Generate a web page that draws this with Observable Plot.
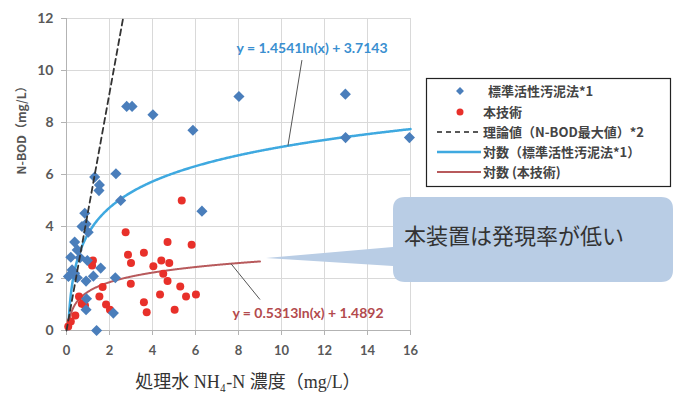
<!DOCTYPE html>
<html><head><meta charset="utf-8">
<script src="https://cdn.jsdelivr.net/npm/d3@7"></script>
<script src="https://cdn.jsdelivr.net/npm/@observablehq/plot@0.6"></script>
<style>
html,body{margin:0;padding:0;background:#fff;}
#chart{position:relative;width:674px;height:394px;}
</style>
</head><body><div id="chart"></div>
<script>
// Data
const blueX = [1.31,1.53,1.51,2.3,2.8,3.05,4.02,5.88,8.02,12.97,12.98,15.95,2.52,6.3,0.85,0.91,0.72,1.01,0.38,0.5,0.2,0.63,0.97,0.26,0.38,1.59,0.09,0.5,1.25,2.27,0.91,0.93,0.91,2.18,1.4];
const blueY = [5.9,5.6,5.38,6.03,8.62,8.62,8.3,7.7,9.0,9.09,7.42,7.42,5.0,4.59,4.51,4.1,4.0,3.78,3.4,3.1,2.82,2.8,2.69,2.33,2.2,2.4,2.08,2.03,2.09,2.03,1.9,1.22,0.8,0.67,0.0];
const redX = [5.36,2.75,4.7,5.82,3.6,2.86,3.0,4.41,4.78,4.04,1.23,1.19,4.5,4.7,2.99,1.68,5.29,4.35,5.56,6.02,1.53,0.58,3.6,3.73,5.03,1.84,2.02,0.71,0.86,0.41,0.2,0.08];
const redY = [5.0,3.78,3.4,3.3,2.99,2.91,2.6,2.69,2.6,2.47,2.69,2.5,2.18,1.9,1.8,1.67,1.69,1.38,1.31,1.38,1.31,1.31,1.09,0.7,0.8,1.0,0.8,1.03,0.96,0.58,0.35,0.15];
const theoryX = [0, 2.63];
const theoryY = [0, 12];
const blueFit = {a: 1.4541, b: 3.7143, from: 0.08, to: 16};
const redFit = {a: 0.5313, b: 1.4892, from: 0.07, to: 9};
const xTicks = [0,2,4,6,8,10,12,14,16];
const yTicks = [0,2,4,6,8,10,12];
const legendLabels = ["標準活性汚泥法*1","本技術","理論値（N-BOD最大値）*2","対数（標準活性汚泥法*1）","対数 (本技術)"];
const blueLabel = "y = 1.4541ln(x) + 3.7143";
const redLabel = "y = 0.5313ln(x) + 1.4892";
const calloutText = "本装置は発現率が低い";
const xLabel = "処理水 NH\u2084-N 濃度（mg/L）";
const yLabel = "N-BOD（mg/L）";

const C = {blue:"#4a7ebb", red:"#e8302a", blueLine:"#3fa9e0", redLine:"#b85a5c", grid:"#d9d9d9", tick:"#595959"};

const bluePts = blueX.map((x,i)=>({x, y: blueY[i]}));
const redPts = redX.map((x,i)=>({x, y: redY[i]}));
const theory = theoryX.map((x,i)=>({x, y: theoryY[i]}));
function curve(f){ const n=400; return d3.range(n+1).map(i=>{const x=f.from+(f.to-f.from)*i/n; return {x, y:f.a*Math.log(x)+f.b};}); }
const blueCurve = curve(blueFit), redCurve = curve(redFit);

const font = "Lato, 'Noto Sans CJK JP', sans-serif";
const plot = Plot.plot({
  width: 674, height: 394,
  marginLeft: 66, marginRight: 264, marginTop: 18, marginBottom: 64,
  style: {fontFamily: font, background: "transparent"},
  x: {domain: [0,16], ticks: xTicks, label: null},
  y: {domain: [0,12], ticks: yTicks, label: null},
  marks: [
    Plot.gridX(xTicks, {stroke: C.grid, strokeOpacity: 1}),
    Plot.gridY(yTicks, {stroke: C.grid, strokeOpacity: 1}),
    Plot.ruleX([0], {stroke: "#b3b3b3"}),
    Plot.ruleY([0], {stroke: "#b3b3b3"}),
    Plot.axisX(xTicks, {tickSize: 5, tickPadding: 10, stroke: "#b3b3b3", fill: C.tick, fontSize: 13, fontWeight: "bold"}),
    Plot.axisY(yTicks, {tickSize: 5, tickPadding: 8, stroke: "#b3b3b3", fill: C.tick, fontSize: 14, fontWeight: "bold"}),
    Plot.line(blueCurve, {x: "x", y: "y", stroke: C.blueLine, strokeWidth: 2.5}),
    Plot.line(redCurve, {x: "x", y: "y", stroke: C.redLine, strokeWidth: 2}),
    Plot.dot(redPts, {x: "x", y: "y", r: 4, fill: C.red, stroke: "none"}),
    Plot.dot(bluePts, {x: "x", y: "y", symbol: "diamond2", r: 5, fill: C.blue, stroke: "none"}),
    Plot.line(theory, {x: "x", y: "y", stroke: "#333", strokeWidth: 1.8, strokeDasharray: "6,4"}),
    Plot.link([{x1: 10.95, y1: 10.4, x2: 10.3, y2: blueFit.a*Math.log(10.3)+blueFit.b}], {x1:"x1",y1:"y1",x2:"x2",y2:"y2", stroke: "#555", strokeWidth: 1}),
    Plot.link([{x1: 9.0, y1: 1.19, x2: 7.65, y2: redFit.a*Math.log(7.65)+redFit.b}], {x1:"x1",y1:"y1",x2:"x2",y2:"y2", stroke: "#555", strokeWidth: 1}),
    Plot.text([blueLabel], {x: 11.42, y: 10.85, text: d=>d, fill: "#3a8fd0", fontSize: 14, fontWeight: "bold", fontFamily: font}),
    Plot.text([redLabel], {x: 11.23, y: 0.65, text: d=>d, fill: "#b34a4d", fontSize: 14, fontWeight: "bold", fontFamily: font}),
    Plot.text([yLabel], {frameAnchor: "left", dx: -44, rotate: -90, text: d=>d, fill: "#555", fontSize: 12, fontWeight: "bold", fontFamily: "'Noto Sans CJK JP', sans-serif"})
  ]
});
document.getElementById("chart").appendChild(plot);

const svg = d3.select(plot);
// x-axis title
svg.append("text").attr("x", 248).attr("y", 388).attr("text-anchor","middle")
  .attr("font-family","'Liberation Serif','Noto Sans CJK JP',serif").attr("font-size",18).attr("fill","#333").text(xLabel);

// legend
const lg = svg.append("g");
lg.append("rect").attr("x",426.5).attr("y",78.5).attr("width",244).attr("height",108).attr("fill","#fff").attr("stroke","#222").attr("stroke-width",1.2);
const rows = [91,112,132,152,172];
legendLabels.forEach((t,i)=>{
  const y = rows[i];
  if(i===0) lg.append("path").attr("d", d3.symbol(d3.symbolDiamond2, 40)()).attr("transform",`translate(460,${y})`).attr("fill",C.blue);
  if(i===1) lg.append("circle").attr("cx",460).attr("cy",y).attr("r",3.5).attr("fill",C.red);
  if(i===2) lg.append("line").attr("x1",437).attr("x2",481).attr("y1",y).attr("y2",y).attr("stroke","#222").attr("stroke-width",1.5).attr("stroke-dasharray","5,4");
  if(i===3) lg.append("line").attr("x1",437).attr("x2",481).attr("y1",y).attr("y2",y).attr("stroke",C.blueLine).attr("stroke-width",2.5);
  if(i===4) lg.append("line").attr("x1",437).attr("x2",481).attr("y1",y).attr("y2",y).attr("stroke",C.redLine).attr("stroke-width",2);
  lg.append("text").attr("x", i===0?488:483).attr("y",y).attr("dy","0.36em").attr("text-anchor","start").attr("font-family","'Noto Sans CJK JP',sans-serif").attr("font-size",13).attr("font-weight","bold").attr("fill","#444").text(t);
});

// callout
const x0=393,y0=197,x1=673,y1=282,r=12;
const path = `M${x0+r},${y0} H${x1-r} Q${x1},${y0} ${x1},${y0+r} V${y1-r} Q${x1},${y1} ${x1-r},${y1} H${x0+r} Q${x0},${y1} ${x0},${y1-r} V266 L266,258 L${x0},247 V${y0+r} Q${x0},${y0} ${x0+r},${y0} Z`;
svg.append("path").attr("d",path).attr("fill","#b9cde5").attr("stroke","none");
svg.append("text").attr("x",404).attr("y",236).attr("dy","0.35em").attr("text-anchor","start").attr("font-family","'Noto Sans CJK JP',sans-serif").attr("font-size",22).attr("fill","#333").text(calloutText);
</script>
</body></html>
